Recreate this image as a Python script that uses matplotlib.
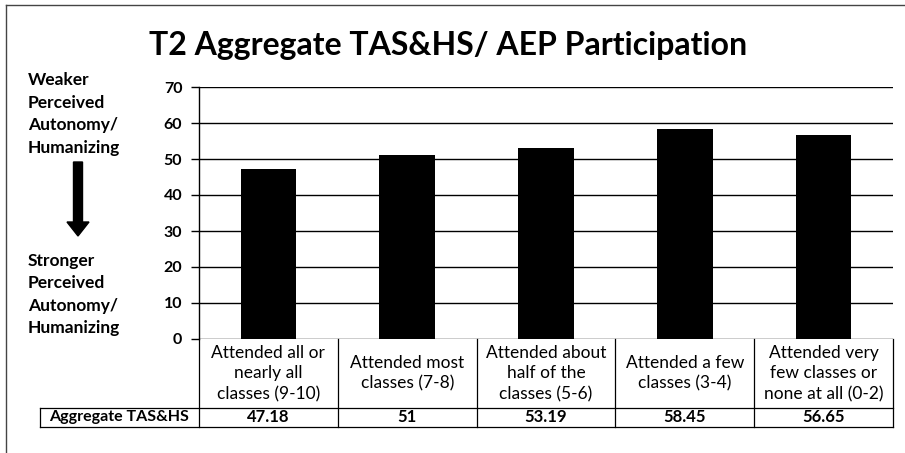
import matplotlib
matplotlib.use("Agg")
import matplotlib.pyplot as plt
from matplotlib.patches import FancyArrow
import matplotlib.transforms as mtransforms

categories = [
    "Attended all or\nnearly all\nclasses (9-10)",
    "Attended most\nclasses (7-8)",
    "Attended about\nhalf of the\nclasses (5-6)",
    "Attended a few\nclasses (3-4)",
    "Attended very\nfew classes or\nnone at all (0-2)",
]
values = [47.18, 51, 53.19, 58.45, 56.65]
value_labels = ["47.18", "51", "53.19", "58.45", "56.65"]
row_label = "Aggregate TAS&HS"
title = "T2 Aggregate TAS&HS/ AEP Participation"
top_note = "Weaker\nPerceived\nAutonomy/\nHumanizing"
bottom_note = "Stronger\nPerceived\nAutonomy/\nHumanizing"
yticks = [0, 10, 20, 30, 40, 50, 60, 70]

FONT = "Lato"
plt.rcParams['font.family'] = [FONT, 'DejaVu Sans']

W, H = 905, 453
fig = plt.figure(figsize=(W / 100, H / 100), dpi=100)

def fx(px):
    return px / W

def fy(py):
    return 1 - py / H

ax_l, ax_r, ax_t, ax_b = 199, 893, 87, 339
ax = fig.add_axes([fx(ax_l), fy(ax_b), fx(ax_r - ax_l), (ax_b - ax_t) / H])

x = list(range(len(values)))
ax.bar(x, values, width=0.40, color="black", zorder=3)
ax.set_xlim(-0.5, len(values) - 0.5)
ax.set_ylim(0, 70)
ax.set_yticks(yticks)
ax.set_yticklabels([str(t) for t in yticks], fontsize=11.5, fontweight="bold")
ax.yaxis.grid(True, color="black", linewidth=1.0, zorder=0)
ax.set_axisbelow(True)
ax.set_xticks([])
for s in ["top", "right", "bottom"]:
    ax.spines[s].set_visible(False)
ax.spines["left"].set_linewidth(1.0)
ax.tick_params(axis="y", length=6, width=1.0, pad=6, direction="out")

# Table below the axes (x from data coords, y in axes coords)
tr = mtransforms.blended_transform_factory(ax.transData, ax.transAxes)
tra = ax.transAxes
axh = ax_b - ax_t
y_hdr_bot = -(408 - ax_b) / axh
y_val_bot = -(427 - ax_b) / axh
x_lab_left = (40 - ax_l) / (ax_r - ax_l)
lw = 0.9
n = len(values)
for k in range(n + 1):
    xx = k - 0.5
    ax.plot([xx, xx], [0, y_val_bot], transform=tr, color="black", lw=lw, clip_on=False)
ax.plot([x_lab_left, 1], [y_hdr_bot, y_hdr_bot], transform=tra, color="black", lw=lw, clip_on=False)
ax.plot([x_lab_left, 1], [y_val_bot, y_val_bot], transform=tra, color="black", lw=lw, clip_on=False)
ax.plot([x_lab_left, x_lab_left], [y_hdr_bot, y_val_bot], transform=tra, color="black", lw=lw, clip_on=False)

for i, (c, v) in enumerate(zip(categories, value_labels)):
    ax.text(i, (0 + y_hdr_bot) / 2, c, transform=tr, ha="center", va="center",
            fontsize=12.5, linespacing=1.35, clip_on=False)
    ax.text(i, (y_hdr_bot + y_val_bot) / 2, v, transform=tr, ha="center", va="center",
            fontsize=12, fontweight="bold", clip_on=False)
ax.text((x_lab_left + 0) / 2, (y_hdr_bot + y_val_bot) / 2, row_label, transform=tra,
        ha="center", va="center", fontsize=11.5, fontweight="bold", clip_on=False)

# Title
fig.text(fx(448), fy(45), title, ha="center", va="center", fontsize=23, fontweight="bold")

# Left notes and arrow
fig.text(fx(28), fy(72), top_note, ha="left", va="top", fontsize=12.5, fontweight="bold",
         linespacing=1.5)
fig.text(fx(28), fy(253), bottom_note, ha="left", va="top", fontsize=12.5, fontweight="bold",
         linespacing=1.5)
arrow = FancyArrow(fx(78), fy(162), 0, fy(236) - fy(162), width=fx(9), head_width=fx(22),
                   head_length=(236 - 222) / H, length_includes_head=True,
                   transform=fig.transFigure, color="black")
fig.patches.append(arrow)

# Figure border (partially cropped)
fig.add_artist(plt.Line2D([fx(6), fx(6)], [fy(5), 0], transform=fig.transFigure, color="#444444", lw=1.0))
fig.add_artist(plt.Line2D([fx(6), 1], [fy(5), fy(5)], transform=fig.transFigure, color="#444444", lw=1.0))

fig.savefig("out.png", dpi=100)
